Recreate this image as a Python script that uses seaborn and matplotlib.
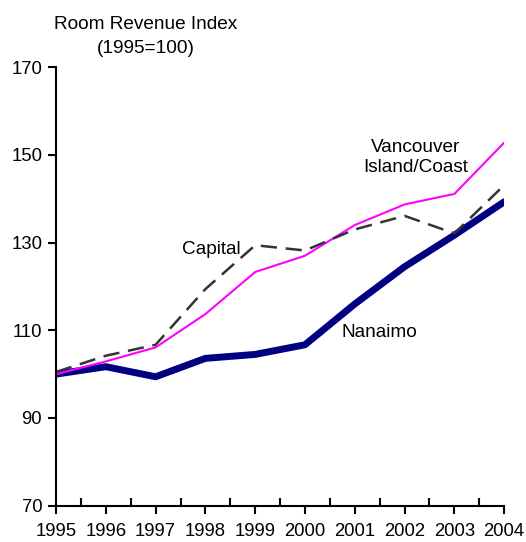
import numpy as np
import pandas as pd
import matplotlib
matplotlib.use("Agg")
import matplotlib.pyplot as plt
import seaborn as sns
from matplotlib.ticker import MultipleLocator

# Room revenue index, 1995 = 100
years = [1995, 1996, 1997, 1998, 1999, 2000, 2001, 2002, 2003, 2004]
nanaimo = [100.0, 101.7, 99.4, 103.6, 104.5, 106.7, 116.0, 124.5, 131.7, 139.3]
vancouver_island = [100.0, 102.9, 106.1, 113.7, 123.3, 127.0, 134.0, 138.7, 141.1, 152.8]
capital = [100.5, 104.2, 106.7, 119.4, 129.4, 128.2, 133.0, 136.1, 132.1, 143.1]
y_ticks = [70, 90, 110, 130, 150, 170]

series = ["Nanaimo", "Vancouver Island/Coast", "Capital"]

df = pd.DataFrame({
    "year": years * 3,
    "value": nanaimo + vancouver_island + capital,
    "region": np.repeat(series, len(years)),
})

sns.set_style("ticks")
plt.rcParams["font.family"] = ["Liberation Sans", "DejaVu Sans"]
plt.rcParams["text.color"] = "black"

fig = plt.figure(figsize=(5.26, 5.42), dpi=100)
ax = fig.add_axes([0.1065, 0.067, 0.852, 0.809])

sns.lineplot(
    data=df, x="year", y="value", hue="region", size="region", style="region",
    hue_order=series, size_order=series, style_order=series,
    palette={"Nanaimo": "#000080", "Vancouver Island/Coast": "#ff00ff", "Capital": "#333333"},
    sizes={"Nanaimo": 5.0, "Vancouver Island/Coast": 1.5, "Capital": 1.8},
    dashes={"Nanaimo": "", "Vancouver Island/Coast": "", "Capital": (6.5, 3.5)},
    legend=False, ax=ax,
)

ax.set_xlim(1995, 2004)
ax.set_ylim(70, 170)
ax.set_yticks(y_ticks, [str(v) for v in y_ticks])
ax.set_xticks(years, [str(y) for y in years])
ax.xaxis.set_minor_locator(MultipleLocator(0.5))
ax.set_xlabel("")
ax.set_ylabel("")

for s in ["top", "right"]:
    ax.spines[s].set_visible(False)
ax.spines["left"].set_linewidth(1.5)
ax.spines["bottom"].set_linewidth(1.5)
ax.spines["left"].set_color("black")
ax.spines["bottom"].set_color("black")
ax.tick_params(axis="both", which="major", direction="out", length=6, width=1.5,
               labelsize=13.3, colors="black", pad=4)
ax.tick_params(axis="x", which="major", pad=6.5)
ax.tick_params(axis="x", which="minor", direction="in", length=6, width=1.5,
               colors="black")

ax.text(0.2, 1.07, "Room Revenue Index\n(1995=100)", transform=ax.transAxes,
        ha="center", va="center", fontsize=13.7, linespacing=1.5, color="black")

ax.text(1998.11, 128.5, "Capital", fontsize=13.7, ha="center", va="center")
ax.text(2002.23, 149.4, "Vancouver\nIsland/Coast", fontsize=13.7, ha="center",
        va="center", linespacing=1.25)
ax.text(2001.5, 109.4, "Nanaimo", fontsize=13.7, ha="center", va="center")

fig.savefig("out.png", dpi=100)
